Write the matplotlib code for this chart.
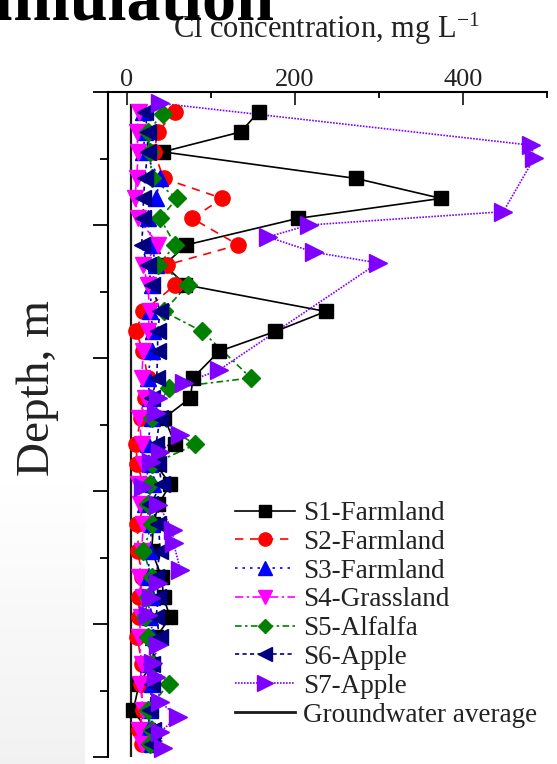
import numpy as np
import matplotlib
matplotlib.use("Agg")
import matplotlib.pyplot as plt
from matplotlib.lines import Line2D
from matplotlib.ticker import MultipleLocator

plt.rcParams["font.family"] = ["Liberation Serif", "DejaVu Serif"]
plt.rcParams["mathtext.fontset"] = "custom"
plt.rcParams["mathtext.rm"] = "Liberation Serif"
plt.rcParams["mathtext.it"] = "Liberation Serif:italic"

# ---- data: Cl concentration (mg/L) versus depth (m) ----
DEPTH = [0.3, 0.6, 0.9, 1.3, 1.6, 1.9, 2.3, 2.6, 2.9, 3.3, 3.6, 3.9, 4.3, 4.6, 4.9,
         5.3, 5.6, 5.9, 6.2, 6.5, 6.9, 7.3, 7.6, 7.9, 8.2, 8.6, 8.9, 9.3, 9.6, 9.8]

S1_FARMLAND = [157, 136, 43, 273, 374, 204, 71, 45, 70, 237, 177, 110, 79, 76, 45,
               58, 35, 52, 38, 32, 30, 42, 44, 52, 35, 30, 15, 8, 25, 30]
S2_FARMLAND = [58, 37, 33, 44, 114, 78, 133, 48, 58, 20, 11, 20, 25, 22, 17,
               11, 13, 20, 22, 13, 14, 18, 15, 15, 13, 18, 17, 20, 15, 18]
S3_FARMLAND = [20, 22, 20, 40, 35, 25, 30, 35, 30, 28, 32, 30, 25, 28, 30,
               25, 28, 32, 22, 30, 28, 25, 30, 28, 32, 25, 30, 28, 25, 30]
S4_GRASSLAND = [15, 12, 14, 12, 10, 14, 38, 20, 25, 28, 25, 20, 18, 22, 15,
                18, 20, 14, 16, 20, 18, 15, 20, 17, 15, 18, 16, 20, 15, 18]
S6_APPLE = [22, 25, 25, 22, 20, 20, 18, 25, 30, 40, 37, 37, 36, 30, 40,
            35, 38, 42, 28, 38, 40, 35, 38, 35, 40, 30, 30, 28, 32, 30]

S5_DEPTH = [0.33, 0.6, 0.9, 1.3, 1.6, 1.9, 2.3, 2.6, 2.9, 3.3, 3.6, 4.3, 4.45, 4.9,
            5.3, 5.6, 5.9, 6.2, 6.5, 6.9, 7.3, 7.6, 7.9, 8.2, 8.6, 8.9, 9.3, 9.6, 9.8]
S5_ALFALFA = [43, 25, 28, 30, 60, 40, 58, 38, 73, 44, 90, 148, 50, 30,
              82, 30, 28, 25, 30, 20, 30, 25, 22, 25, 30, 50, 25, 30, 28]

S7_DEPTH = [0.17, 0.8, 0.99, 1.8, 2.0, 2.18, 2.41, 2.57, 4.18, 4.38, 4.6, 4.83, 5.16,
            5.41, 5.56, 5.94, 6.21, 6.59, 6.78, 7.19, 7.38, 7.61, 7.86, 8.32, 8.59,
            8.8, 9.17, 9.4, 9.62, 9.86]
S7_APPLE = [40, 481, 485, 448, 217, 168, 223, 299, 110, 68, 38, 35, 64,
            40, 29, 20, 38, 55, 56, 64, 38, 29, 25, 37, 32,
            35, 40, 61, 40, 43]

GROUNDWATER_AVG = 5
GROUNDWATER_DEPTH = [0.2, 10]

LABELS = ["S1-Farmland", "S2-Farmland", "S3-Farmland", "S4-Grassland",
          "S5-Alfalfa", "S6-Apple", "S7-Apple", "Groundwater average"]

series = [
    (S1_FARMLAND, DEPTH, dict(color="black", ls="-", marker="s", ms=10)),
    (S2_FARMLAND, DEPTH, dict(color="#ff0000", ls=(0, (5, 4)), marker="o", ms=11)),
    (S3_FARMLAND, DEPTH, dict(color="#0000ff", ls=(0, (1.5, 3)), marker="^", ms=12)),
    (S4_GRASSLAND, DEPTH, dict(color="#ff00ff", ls=(0, (5, 2, 1.5, 2)), marker="v", ms=12)),
    (S5_ALFALFA, S5_DEPTH, dict(color="#008000", ls=(0, (4, 2, 1.5, 2)), marker="D", ms=9)),
    (S6_APPLE, DEPTH, dict(color="#000080", ls=(0, (2.5, 2)), marker="<", ms=12)),
    (S7_APPLE, S7_DEPTH, dict(color="#8000ff", ls=(0, (1, 0.8)), marker=">", ms=12.5)),
]

fig = plt.figure(figsize=(5.57, 7.64), dpi=100)

# faint grey shading in the lower-left corner
shade = fig.add_axes([0, 0, 85 / 557, 290 / 764], zorder=-5)
shade.imshow(np.linspace(0, 1, 200)[:, None], cmap="Greys", vmin=0, vmax=9,
             aspect="auto", extent=[0, 1, 0, 1], origin="upper")
shade.axis("off")

ax = fig.add_axes([108 / 557, 7 / 764, 439 / 557, 665 / 764])
ax.patch.set_alpha(0)

ax.plot([GROUNDWATER_AVG, GROUNDWATER_AVG], GROUNDWATER_DEPTH, color="#1a1a1a",
        lw=1.6, zorder=2)

handles = []
for i, (vals, dep, st) in enumerate(series):
    ax.plot(vals, dep, color=st["color"], ls=st["ls"], lw=1.2, zorder=2)
    ax.plot(vals, dep, ls="none", marker=st["marker"], ms=st["ms"],
            color=st["color"], mec=st["color"], zorder=3 + i)
    handles.append(Line2D([], [], color=st["color"], ls=st["ls"], lw=1.2,
                          marker=st["marker"], ms=st["ms"] - 1.5, mec=st["color"]))
handles.append(Line2D([], [], color="#1a1a1a", lw=2))

ax.set_xlim(-22, 500)
ax.set_ylim(10, 0)

for side in ("right", "bottom"):
    ax.spines[side].set_visible(False)
for side in ("top", "left"):
    ax.spines[side].set_linewidth(1.5)

ax.xaxis.tick_top()
ax.xaxis.set_major_locator(MultipleLocator(200))
ax.xaxis.set_minor_locator(MultipleLocator(100))
ax.yaxis.set_major_locator(MultipleLocator(2))
ax.yaxis.set_minor_locator(MultipleLocator(1))
ax.tick_params(axis="x", which="major", direction="in", length=9.5, width=1.3,
               pad=1, labelsize=19, colors="#222222")
ax.tick_params(axis="x", which="minor", direction="in", length=4.5, width=1.3)
ax.tick_params(axis="y", which="major", direction="out", length=11, width=1.3,
               labelleft=False)
ax.tick_params(axis="y", which="minor", direction="out", length=6, width=1.3)

fig.text(326 / 557, 1 - 38 / 764, r"Cl concentration, mg L$^{\mathregular{-1}}$",
         ha="center", va="baseline", fontsize=22, color="#222222")
fig.text(38 / 557, 1 - 388 / 764, "Depth, m", rotation=90, ha="center",
         va="center", fontsize=34, color="#222222")

# heading above the chart, mostly outside the canvas
fig.text(275 / 557, 1 - 20 / 764, "accumulation", ha="right", va="baseline",
         fontsize=49, fontweight="bold", color="black")

fig.legend(handles, LABELS, loc="upper left",
           bbox_to_anchor=(235 / 557, 1 - 501 / 764), frameon=False,
           fontsize=19.5, handlelength=2.2, handletextpad=0.3, labelspacing=0.14,
           borderpad=0, borderaxespad=0, labelcolor="#222222")

fig.savefig("out.png", dpi=100)
